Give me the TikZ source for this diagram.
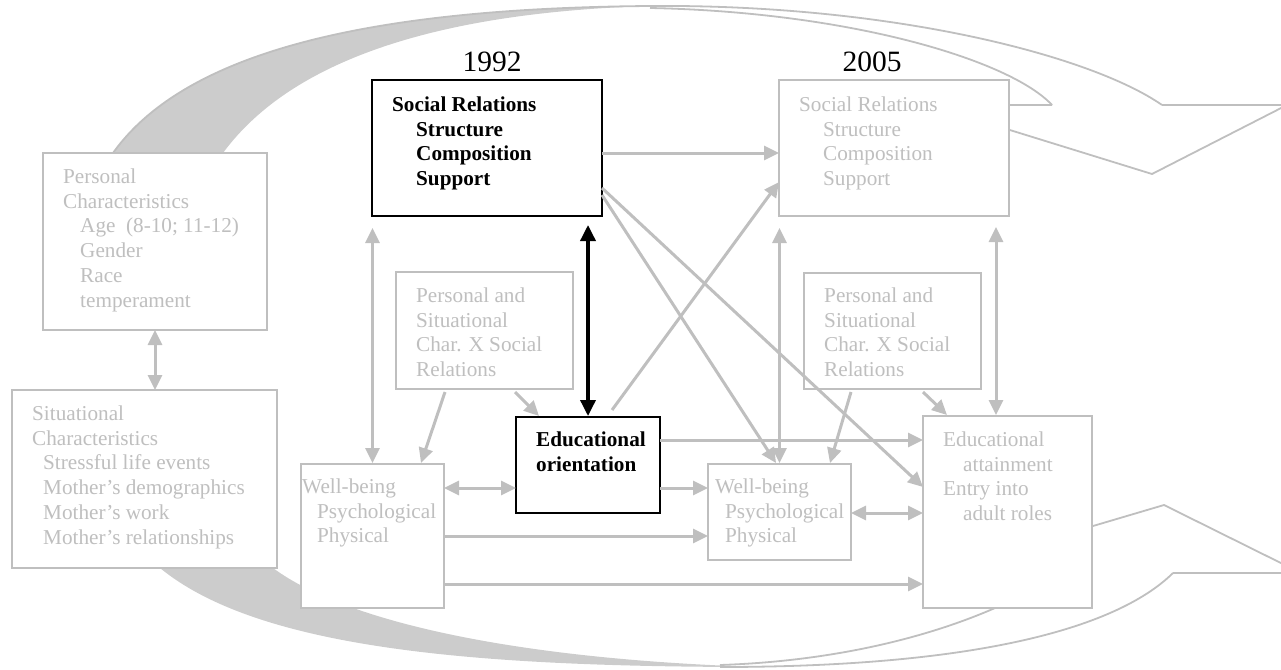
\documentclass[tikz,border=0pt]{standalone}
\usepackage{fontspec}
\setmainfont{Liberation Serif}
\usetikzlibrary{arrows.meta,calc}
\definecolor{lgray}{RGB}{191,191,191}
\definecolor{fgray}{RGB}{204,204,204}
\begin{document}
\begin{tikzpicture}[x=1pt,y=-1pt,
  gbox/.style={draw=lgray, line width=2pt, fill=white, rectangle, inner sep=0pt, outer sep=0pt, anchor=north west},
  bbox/.style={gbox, draw=black},
  gtxt/.style={text=lgray, align=left, inner sep=0pt, anchor=north west, font=\fontsize{21.2}{24.8}\selectfont},
  btxt/.style={gtxt, text=black, font=\fontsize{21.2}{24.8}\selectfont\bfseries},
  conn/.style={draw=lgray, line width=3pt, -{Triangle[length=15pt,width=14pt]}},
  dconn/.style={draw=lgray, line width=3pt, {Triangle[length=15pt,width=14pt]}-{Triangle[length=15pt,width=14pt]}},
  bconn/.style={draw=black, line width=3.5pt, {Triangle[length=16pt,width=15pt]}-{Triangle[length=16pt,width=15pt]}},
  shapeline/.style={draw=lgray, line width=1.8pt, line join=miter},
  year/.style={font=\fontsize{29.5}{32}\selectfont, anchor=base}
]
\useasboundingbox (0,0) rectangle (1281,669);

% ---- top curved arrow ----
\path[fill=fgray] (113,153) .. controls (190,45) and (390,8) .. (650,6)
   .. controls (450,12) and (295,55) .. (223,153) -- cycle;
\draw[shapeline] (113,153) .. controls (190,45) and (390,8) .. (650,6)
   .. controls (890,4) and (1090,55) .. (1162,105);
\draw[shapeline] (650,8) .. controls (850,12) and (1010,60) .. (1052,105);
\draw[shapeline] (1052,105) -- (929,105) -- (1152,174) -- (1287,105) -- (1162,105);

% ---- bottom curved arrow ----
\path[fill=fgray] (160,568) .. controls (260,650) and (480,667) .. (760,667)
   .. controls (530,660) and (350,625) .. (273,568) -- cycle;
\draw[shapeline] (720,667) .. controls (970,667) and (1115,630) .. (1173,573);
\draw[shapeline] (720,665) .. controls (870,660) and (990,620) .. (1060,573);
\draw[shapeline] (1060,573) -- (934,573) -- (1164,505) -- (1301,573) -- (1173,573);

% ---- boxes ----
\node[gbox, minimum width=224pt, minimum height=177pt] (pc) at (43,153) {};
\node[gbox, minimum width=265pt, minimum height=178pt] (sit) at (12,390) {};
\node[gbox, minimum width=143pt, minimum height=144pt] (wb1) at (301,464) {};
\node[bbox, minimum width=230pt, minimum height=136pt] (sr92) at (372,80) {};
\node[gbox, minimum width=177pt, minimum height=117pt] (ps1) at (396,272) {};
\node[bbox, minimum width=144pt, minimum height=96pt] (edu) at (516,417) {};
\node[gbox, minimum width=230pt, minimum height=136pt] (sr05) at (779,80) {};
\node[gbox, minimum width=177pt, minimum height=116pt] (ps2) at (804,273) {};
\node[gbox, minimum width=143pt, minimum height=96pt] (wb2) at (708,464) {};
\node[gbox, minimum width=169pt, minimum height=192pt] (eatt) at (923,416) {};

% ---- years ----
\node[year] (y92) at (492,71) {1992};
\node[year] (y05) at (872,71) {2005};

% ---- texts ----
\node[gtxt] (pct) at (63,167) {\rule{0pt}{16pt}Personal\\Characteristics\\\hspace*{17pt}Age~~(8-10; 11-12)\\\hspace*{17pt}Gender\\\hspace*{17pt}Race\\\hspace*{17pt}temperament};
\node[gtxt] (sitt) at (32,404) {\rule{0pt}{16pt}Situational\\Characteristics\\\hspace*{11pt}Stressful life events\\\hspace*{11pt}Mother’s demographics\\\hspace*{11pt}Mother’s work\\\hspace*{11pt}Mother’s relationships};
\node[gtxt] (wb1t) at (302,477) {\rule{0pt}{16pt}Well-being\\\hspace*{15pt}Psychological\\\hspace*{15pt}Physical};
\node[btxt] (sr92t) at (392,95) {\rule{0pt}{16pt}Social Relations\\\hspace*{24pt}Structure\\\hspace*{24pt}Composition\\\hspace*{24pt}Support};
\node[gtxt] (sr05t) at (799,95) {\rule{0pt}{16pt}Social Relations\\\hspace*{24pt}Structure\\\hspace*{24pt}Composition\\\hspace*{24pt}Support};
\node[gtxt] (ps1t) at (416,286) {\rule{0pt}{16pt}Personal and\\Situational\\Char. X Social\\Relations};
\node[gtxt] (ps2t) at (824,286) {\rule{0pt}{16pt}Personal and\\Situational\\Char. X Social\\Relations};
\node[btxt] (edut) at (536,430) {\rule{0pt}{16pt}Educational\\orientation};
\node[gtxt] (wb2t) at (715,477) {\rule{0pt}{16pt}Well-being\\\hspace*{10pt}Psychological\\\hspace*{10pt}Physical};
\node[gtxt] (eattt) at (943,430) {\rule{0pt}{16pt}Educational\\\hspace*{20pt}attainment\\Entry into\\\hspace*{20pt}adult roles};

% ---- connectors ----
\draw[dconn] (pc.south) -- (pc.south |- sit.north);
\draw[conn] ([yshift=-5pt]sr92.east) -- ([yshift=-5pt]sr05.west);
\draw[dconn] ($(wb1.north |- sr92.south)+(0,12)$) -- ($(wb1.north)+(0,-1)$);
\draw[conn] ($(ps1.south west)+(49,3)$) -- ($(wb1.north east)+(-23,-1)$);
\draw[conn] ($(ps1.south east)+(-58,3)$) -- ($(edu.north west)+(23,-1)$);
\draw[bconn] ($(edu.north |- sr92.south)+(0,9)$) -- ($(edu.north)+(0,-1)$);
\draw[conn] ($(edu.north)+(24,-7)$) -- ($(sr05.south west)+(0,-34)$);
\draw[conn] ($(sr92.south east)+(0,-21)$) -- ($(wb2.north west)+(68,-1)$);
\draw[conn] ($(sr92.south east)+(0,-28)$) -- ($(eatt.north west)+(0,71)$);
\draw[dconn] ($(wb2.north |- sr05.south)+(0,12)$) -- ($(wb2.north)+(0,-1)$);
\draw[conn] ($(ps2.south west)+(47,3)$) -- ($(wb2.north east)+(-21,-1)$);
\draw[conn] ($(ps2.south west)+(119,3)$) -- ($(eatt.north west)+(24,-1)$);
\draw[dconn] ($(sr05.south east)+(-13,11)$) -- ($(eatt.north west)+(73,-1)$);
\draw[conn] ($(edu.north east)+(0,23)$) -- ($(eatt.north west)+(0,24)$);
\draw[conn] ($(edu.north east)+(0,71)$) -- ($(wb2.north west)+(0,24)$);
\draw[dconn] ($(wb1.north east)+(0,24)$) -- ($(edu.north west)+(0,71)$);
\draw[conn] ($(wb1.north east)+(0,72)$) -- ($(wb2.north west)+(0,72)$);
\draw[conn] ($(wb1.north east)+(0,120)$) -- ($(eatt.north west)+(0,168)$);
\draw[dconn] ($(wb2.north east)+(0,49)$) -- ($(eatt.north west)+(0,97)$);
\end{tikzpicture}
\end{document}
